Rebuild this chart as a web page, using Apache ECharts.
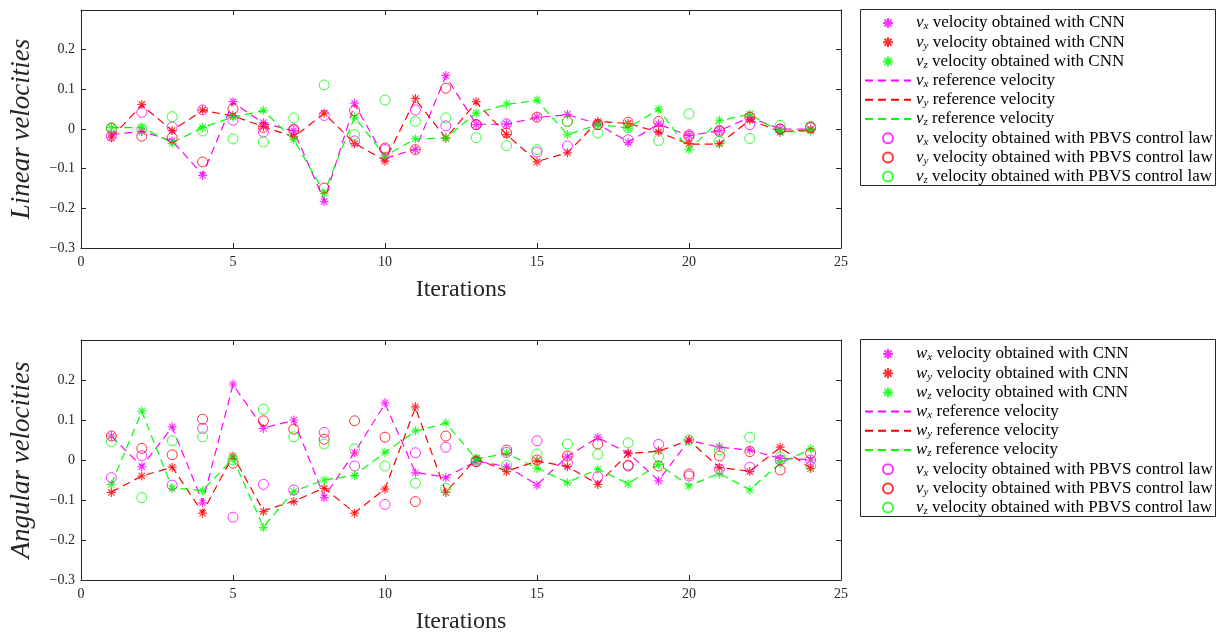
<!DOCTYPE html>
<html>
<head>
<meta charset="utf-8">
<title>Linear and angular velocities</title>
<script src="https://cdn.jsdelivr.net/npm/echarts@6/dist/echarts.min.js"></script>
<style>
  html, body { margin: 0; padding: 0; background: #fff; }
  #chart { width: 1216px; height: 639px; }
</style>
</head>
<body>
<div id="chart"></div>
<script>
// iterations on the x axis
const iterations = [1, 2, 3, 4, 5, 6, 7, 8, 9, 10, 11, 12, 13, 14, 15, 16, 17, 18, 19, 20, 21, 22, 23, 24];
const xTicks = [0, 5, 10, 15, 20, 25];
const yTicks = [-0.3, -0.2, -0.1, 0, 0.1, 0.2];

// linear velocities (top panel)
const vxCnn = [-0.012, -0.006, -0.030, -0.117, 0.069, 0.016, -0.004, -0.183, 0.065, -0.073, -0.052, 0.135, 0.011, 0.013, 0.030, 0.037, 0.013, -0.034, 0.013, -0.016, -0.004, 0.030, 0.000, 0.000];
const vyCnn = [-0.022, 0.062, -0.004, 0.048, 0.034, 0.006, -0.020, 0.040, -0.037, -0.081, 0.077, -0.023, 0.069, -0.014, -0.083, -0.060, 0.019, 0.014, -0.008, -0.037, -0.037, 0.023, -0.008, -0.002];
const vzCnn = [0.004, 0.005, -0.036, 0.004, 0.030, 0.047, -0.027, -0.163, 0.030, -0.068, -0.025, -0.023, 0.040, 0.063, 0.073, -0.014, 0.011, 0.002, 0.050, -0.052, 0.022, 0.038, -0.008, -0.005];
const vxRef = [-0.014, -0.006, -0.030, -0.115, 0.067, 0.015, -0.005, -0.180, 0.063, -0.074, -0.051, 0.133, 0.012, 0.012, 0.029, 0.036, 0.013, -0.033, 0.012, -0.017, -0.004, 0.029, 0.000, 0.000];
const vyRef = [-0.021, 0.060, -0.004, 0.047, 0.033, 0.006, -0.020, 0.039, -0.036, -0.080, 0.075, -0.023, 0.067, -0.014, -0.082, -0.060, 0.019, 0.014, -0.008, -0.038, -0.038, 0.023, -0.007, -0.002];
const vzRef = [0.003, 0.004, -0.035, 0.004, 0.030, 0.046, -0.027, -0.160, 0.030, -0.068, -0.025, -0.023, 0.040, 0.062, 0.072, -0.014, 0.011, 0.003, 0.049, -0.052, 0.021, 0.037, -0.008, -0.005];
const vxPbvs = [-0.018, 0.042, 0.005, 0.048, 0.022, -0.008, 0.000, 0.034, -0.030, -0.052, 0.048, 0.008, 0.011, 0.013, -0.058, -0.043, 0.011, -0.027, -0.002, -0.014, -0.003, 0.011, 0.000, 0.003];
const vyPbvs = [0.002, -0.018, -0.022, -0.083, 0.051, 0.004, -0.002, -0.149, 0.046, -0.048, -0.052, 0.103, 0.011, -0.010, 0.030, 0.019, 0.011, 0.017, 0.019, -0.018, -0.006, 0.030, 0.000, 0.004];
const vzPbvs = [0.003, 0.000, 0.031, -0.005, -0.025, -0.033, 0.028, 0.111, -0.014, 0.073, 0.019, 0.028, -0.022, -0.042, -0.052, 0.019, -0.010, 0.003, -0.029, 0.038, -0.031, -0.024, 0.009, 0.007];

// angular velocities (bottom panel)
const wxCnn = [0.060, -0.017, 0.083, -0.107, 0.190, 0.079, 0.100, -0.094, 0.018, 0.143, -0.032, -0.044, -0.004, -0.017, -0.063, 0.008, 0.057, 0.017, -0.052, 0.050, 0.033, 0.025, 0.004, 0.000];
const wyCnn = [-0.081, -0.040, -0.018, -0.133, 0.010, -0.129, -0.104, -0.071, -0.133, -0.073, 0.133, -0.081, 0.004, -0.029, -0.002, -0.017, -0.061, 0.017, 0.023, 0.050, -0.019, -0.029, 0.032, -0.021];
const wzCnn = [-0.061, 0.123, -0.071, -0.077, 0.004, -0.169, -0.079, -0.050, -0.039, 0.019, 0.073, 0.093, 0.004, 0.017, -0.021, -0.057, -0.023, -0.060, -0.011, -0.065, -0.035, -0.075, -0.008, 0.028];
const wxRef = [0.059, -0.016, 0.082, -0.105, 0.188, 0.080, 0.099, -0.092, 0.019, 0.141, -0.031, -0.043, -0.003, -0.016, -0.062, 0.009, 0.056, 0.017, -0.051, 0.049, 0.032, 0.025, 0.004, 0.001];
const wyRef = [-0.080, -0.040, -0.018, -0.131, 0.011, -0.127, -0.103, -0.070, -0.132, -0.072, 0.131, -0.080, 0.003, -0.028, -0.003, -0.016, -0.060, 0.016, 0.022, 0.049, -0.019, -0.028, 0.031, -0.020];
const wzRef = [-0.060, 0.121, -0.070, -0.076, 0.003, -0.167, -0.078, -0.050, -0.038, 0.019, 0.072, 0.092, 0.003, 0.016, -0.020, -0.056, -0.023, -0.059, -0.011, -0.064, -0.034, -0.074, -0.008, 0.027];
const wxPbvs = [-0.044, 0.011, -0.063, 0.079, -0.143, -0.061, -0.075, 0.069, -0.015, -0.111, 0.018, 0.032, -0.004, 0.019, 0.048, -0.007, -0.042, -0.015, 0.039, -0.040, -0.023, -0.018, 0.000, 0.000];
const wyPbvs = [0.060, 0.029, 0.013, 0.102, -0.008, 0.098, 0.077, 0.052, 0.098, 0.057, -0.104, 0.060, -0.004, 0.025, 0.000, 0.010, 0.040, -0.013, -0.015, -0.035, 0.010, 0.021, -0.025, 0.017];
const wzPbvs = [0.046, -0.094, 0.048, 0.058, 0.000, 0.127, 0.058, 0.040, 0.028, -0.015, -0.058, -0.071, 0.000, -0.013, 0.015, 0.040, 0.014, 0.043, 0.008, 0.050, 0.025, 0.057, 0.007, -0.015];

const MAGENTA = '#ff00ff';
const RED = '#ff0000';
const GREEN = '#00ff00';
const AXIS = '#262626';
const SERIF = '"Liberation Serif", "DejaVu Serif", serif';
const STAR = 'path://M5,0L5,10M0,5L10,5M1.5,1.5L8.5,8.5M1.5,8.5L8.5,1.5';

// legend labels (rich text: italic symbol + subscript)
const legendText = {
    'vx CNN': '{m|v}{s|x}{t| velocity obtained with CNN}',
    'vy CNN': '{m|v}{s|y}{t| velocity obtained with CNN}',
    'vz CNN': '{m|v}{s|z}{t| velocity obtained with CNN}',
    'vx ref': '{m|v}{s|x}{t| reference velocity}',
    'vy ref': '{m|v}{s|y}{t| reference velocity}',
    'vz ref': '{m|v}{s|z}{t| reference velocity}',
    'wx CNN': '{m|w}{s|x}{t| velocity obtained with CNN}',
    'wy CNN': '{m|w}{s|y}{t| velocity obtained with CNN}',
    'wz CNN': '{m|w}{s|z}{t| velocity obtained with CNN}',
    'wx ref': '{m|w}{s|x}{t| reference velocity}',
    'wy ref': '{m|w}{s|y}{t| reference velocity}',
    'wz ref': '{m|w}{s|z}{t| reference velocity}',
    'vx PBVS': '{m|v}{s|x}{t| velocity obtained with PBVS control law}',
    'vy PBVS': '{m|v}{s|y}{t| velocity obtained with PBVS control law}',
    'vz PBVS': '{m|v}{s|z}{t| velocity obtained with PBVS control law}'
};

const pairs = vals => iterations.map((it, i) => [it, vals[i]]);

function cnn(name, vals, color, g) {
    return {
        name, type: 'scatter', xAxisIndex: g * 2, yAxisIndex: g * 2,
        data: pairs(vals), symbol: STAR, symbolSize: 9,
        itemStyle: { color: 'rgba(0,0,0,0)', borderColor: color, borderWidth: 1.2 },
        z: 3
    };
}
function ref(name, vals, color, g) {
    return {
        name, type: 'line', xAxisIndex: g * 2, yAxisIndex: g * 2,
        data: pairs(vals), symbol: 'none', showSymbol: false,
        lineStyle: { color, width: 1.2, type: [8, 5] },
        itemStyle: { color },
        z: 2
    };
}
function pbvs(name, vals, color, g) {
    return {
        name, type: 'scatter', xAxisIndex: g * 2, yAxisIndex: g * 2,
        data: pairs(vals), symbol: 'circle', symbolSize: 10,
        itemStyle: { color: 'rgba(0,0,0,0)', borderColor: color, borderWidth: 1 },
        z: 4
    };
}

const tickFmt = v => (Math.abs(v) < 1e-9 ? '0' : String(Math.round(v * 10) / 10).replace('-', '\u2212'));

function axesFor(g, yName) {
    const xMain = {
        type: 'value', gridIndex: g, min: xTicks[0], max: xTicks[xTicks.length - 1], interval: 5,
        name: 'Iterations', nameLocation: 'middle', nameGap: 30,
        nameTextStyle: { fontFamily: SERIF, fontSize: 24, color: AXIS },
        axisLine: { onZero: false, lineStyle: { color: AXIS, width: 1 } },
        axisTick: { inside: true, length: 5, lineStyle: { color: AXIS } },
        axisLabel: { fontFamily: SERIF, fontSize: 14, color: AXIS, margin: 7 },
        splitLine: { show: false }
    };
    const xTop = {
        type: 'value', gridIndex: g, position: 'top', min: 0, max: 25, interval: 5,
        axisLine: { onZero: false, lineStyle: { color: AXIS, width: 1 } },
        axisTick: { inside: true, length: 5, lineStyle: { color: AXIS } },
        axisLabel: { show: false }, splitLine: { show: false }
    };
    const yMain = {
        type: 'value', gridIndex: g, min: yTicks[0], max: 0.3, interval: 0.1,
        name: yName, nameLocation: 'middle', nameGap: 46, nameRotate: 90,
        nameTextStyle: { fontFamily: SERIF, fontSize: 27, fontStyle: 'italic', color: AXIS },
        axisLine: { onZero: false, lineStyle: { color: AXIS, width: 1 } },
        axisTick: { inside: true, length: 5, lineStyle: { color: AXIS } },
        axisLabel: { fontFamily: SERIF, fontSize: 14, color: AXIS, margin: 6, showMaxLabel: false, formatter: tickFmt },
        splitLine: { show: false }
    };
    const yRight = {
        type: 'value', gridIndex: g, position: 'right', min: -0.3, max: 0.3, interval: 0.1,
        axisLine: { onZero: false, lineStyle: { color: AXIS, width: 1 } },
        axisTick: { inside: true, length: 5, lineStyle: { color: AXIS } },
        axisLabel: { show: false }, splitLine: { show: false }
    };
    return { x: [xMain, xTop], y: [yMain, yRight] };
}

const topAxes = axesFor(0, 'Linear velocities');
const botAxes = axesFor(1, 'Angular velocities');

const legendRich = {
    m: { fontFamily: SERIF, fontSize: 17, fontStyle: 'italic', color: '#000', lineHeight: 16 },
    s: { fontFamily: SERIF, fontSize: 11, fontStyle: 'italic', color: '#000', lineHeight: 16, padding: [7, 0, 0, 0] },
    t: { fontFamily: SERIF, fontSize: 17, color: '#000', lineHeight: 16 }
};

// dashed-line entries show only the line in the legend
function legendItems(names) {
    return names.map(n => (n.endsWith('ref') ? { name: n, itemStyle: { opacity: 0 } } : n));
}

function legendFor(names, top) {
    return {
        orient: 'vertical', left: 859, top, itemWidth: 46, itemHeight: 10, itemGap: 1.2,
        data: legendItems(names), selectedMode: false,
        formatter: name => legendText[name],
        textStyle: { fontFamily: SERIF, fontSize: 17, color: '#000', rich: legendRich }
    };
}

const chart = echarts.init(document.getElementById('chart'), null, { renderer: 'canvas' });

chart.setOption({
    animation: false,
    backgroundColor: '#fff',
    grid: [
        { left: 78, top: 10, width: 763, height: 238 },
        { left: 78, top: 340, width: 763, height: 240 }
    ],
    xAxis: [...topAxes.x, ...botAxes.x],
    yAxis: [...topAxes.y, ...botAxes.y],
    legend: [
        legendFor(['vx CNN', 'vy CNN', 'vz CNN', 'vx ref', 'vy ref', 'vz ref', 'vx PBVS', 'vy PBVS', 'vz PBVS'], 9),
        legendFor(['wx CNN', 'wy CNN', 'wz CNN', 'wx ref', 'wy ref', 'wz ref', 'vx PBVS', 'vy PBVS', 'vz PBVS'], 340)
    ],
    graphic: [
        { type: 'rect', shape: { x: 860.5, y: 9.5, width: 355, height: 176 }, style: { fill: 'none', stroke: AXIS, lineWidth: 1 } },
        { type: 'rect', shape: { x: 860.5, y: 339.5, width: 355, height: 177 }, style: { fill: 'none', stroke: AXIS, lineWidth: 1 } }
    ],
    series: [
        cnn('vx CNN', vxCnn, MAGENTA, 0),
        cnn('vy CNN', vyCnn, RED, 0),
        cnn('vz CNN', vzCnn, GREEN, 0),
        ref('vx ref', vxRef, MAGENTA, 0),
        ref('vy ref', vyRef, RED, 0),
        ref('vz ref', vzRef, GREEN, 0),
        pbvs('vx PBVS', vxPbvs, MAGENTA, 0),
        pbvs('vy PBVS', vyPbvs, RED, 0),
        pbvs('vz PBVS', vzPbvs, GREEN, 0),
        cnn('wx CNN', wxCnn, MAGENTA, 1),
        cnn('wy CNN', wyCnn, RED, 1),
        cnn('wz CNN', wzCnn, GREEN, 1),
        ref('wx ref', wxRef, MAGENTA, 1),
        ref('wy ref', wyRef, RED, 1),
        ref('wz ref', wzRef, GREEN, 1),
        pbvs('vx PBVS', wxPbvs, MAGENTA, 1),
        pbvs('vy PBVS', wyPbvs, RED, 1),
        pbvs('vz PBVS', wzPbvs, GREEN, 1)
    ]
});
</script>
</body>
</html>
